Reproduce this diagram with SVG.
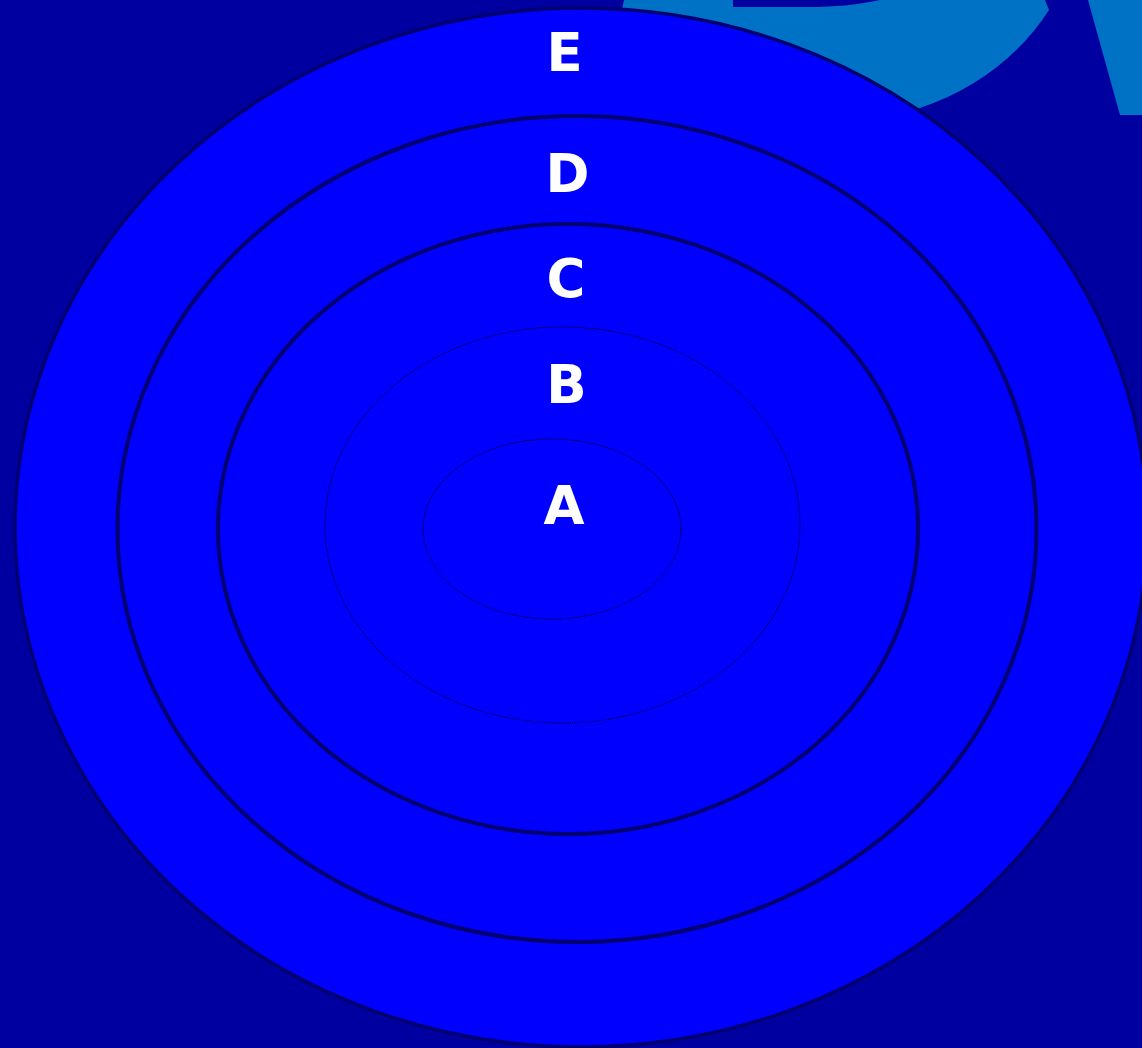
<svg xmlns="http://www.w3.org/2000/svg" width="1142" height="1048" viewBox="0 0 1142 1048">
  <style>
    .ring { fill: #0000FF; stroke: #000070; }
    .thin { fill: #0000FF; stroke: #000000; stroke-width: 1; stroke-dasharray: 1 1; }
    .lbl { font-family: "DejaVu Sans", "Liberation Sans", sans-serif; font-weight: bold; font-size: 53px; fill: #FFFFFF; text-anchor: middle; }
  </style>
  <rect x="0" y="0" width="1142" height="1048" fill="#0000A0"/>
  <g id="backdrop">
    <path d="M624,0 H1045 L1049,10 C1020,55 975,90 920,108 L600,108 Z" fill="#0072C6"/>
    <path d="M733,0 H880 C855,5 835,7 810,7 H733 Z" fill="#0000A0"/>
    <path d="M1088,0 H1142 V115 H1120 Z" fill="#0072C6"/>
  </g>
  <g id="node-E">
    <ellipse class="ring" cx="581" cy="527.5" rx="566" ry="519.5" stroke-width="3.5"/>
    <text class="lbl" x="564.5" y="71">E</text>
  </g>
  <g id="node-D">
    <ellipse class="ring" cx="577" cy="529" rx="459.5" ry="413" stroke-width="4"/>
    <text class="lbl" x="567.5" y="192">D</text>
  </g>
  <g id="node-C">
    <ellipse class="ring" cx="568" cy="529" rx="350" ry="305" stroke-width="4"/>
    <text class="lbl" x="566" y="297">C</text>
  </g>
  <g id="node-B">
    <ellipse class="thin" cx="562.5" cy="525" rx="237.5" ry="198"/>
    <text class="lbl" x="566.5" y="403">B</text>
  </g>
  <g id="node-A">
    <ellipse class="thin" cx="552" cy="529" rx="129" ry="90"/>
    <text class="lbl" x="564" y="524">A</text>
  </g>
  <g id="connectors"/>
</svg>
